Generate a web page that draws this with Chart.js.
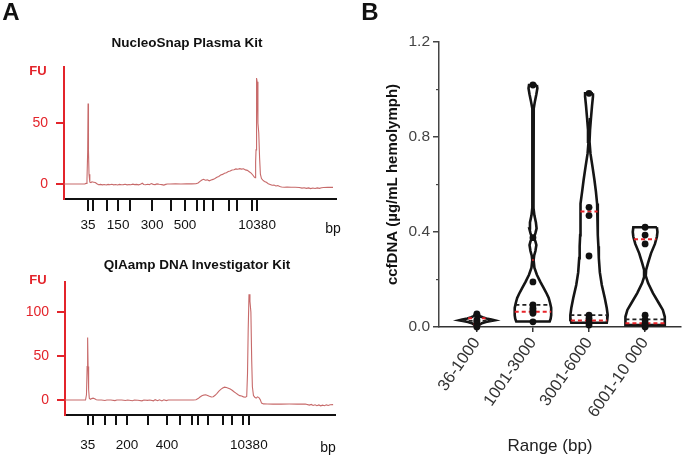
<!DOCTYPE html>
<html>
<head>
<meta charset="utf-8">
<script src="https://cdn.jsdelivr.net/npm/chart.js@4.4.1/dist/chart.umd.min.js"></script>
<style>
  html, body { margin: 0; padding: 0; background: #fff; }
  #fig { position: relative; width: 685px; height: 455px; overflow: hidden; font-family: "Liberation Sans", Arial, sans-serif; }
  #fig canvas { position: absolute; }
  .lbl { position: absolute; transform: translate(-50%, -50%); line-height: 1; white-space: nowrap; color: #111; }
  .b { font-weight: bold; }
  .red { color: #e3242b; }
</style>
</head>
<body>
<div id="fig">
  <canvas id="top" width="345" height="235" style="left:0;top:0"></canvas>
  <canvas id="bottom" width="345" height="235" style="left:0;top:220px"></canvas>
  <canvas id="violin" width="340" height="455" style="left:345px;top:0"></canvas>

  <div class="lbl b" style="left:11px;top:12px;font-size:24px">A</div>
  <div class="lbl b" style="left:370px;top:12px;font-size:24px">B</div>
  <div class="lbl b" style="left:187px;top:43px;font-size:13.5px">NucleoSnap Plasma Kit</div>
  <div class="lbl b" style="left:197px;top:265px;font-size:13.5px">QIAamp DNA Investigator Kit</div>
  <div class="lbl b red" style="left:38px;top:70px;font-size:13px">FU</div>
  <div class="lbl b red" style="left:38px;top:279px;font-size:13px">FU</div>
  <div class="lbl" style="left:333px;top:228px;font-size:14px">bp</div>
  <div class="lbl" style="left:328px;top:447px;font-size:14px">bp</div>
  <div class="lbl" style="left:550px;top:445px;font-size:17px;color:#222">Range (bp)</div>
</div>
<script>
const RED = '#e3242b';
const TRACE = '#c76a6a';

// --- Panel A: electropherograms (x = migration position, 0-100) ---
const topLadder = [8.8, 10.6, 15.8, 19.9, 24.3, 32.4, 39.3, 44.5, 48.9, 51.5, 54.8, 60.7, 63.6, 69.1, 71.0];
const topLadderLabels = ['35', '', '', '150', '', '300', '', '500', '', '', '', '', '', '', '10380'];
const bottomLadder = [8.4, 10.3, 14.9, 19.0, 23.0, 30.9, 37.8, 42.7, 47.1, 49.3, 52.9, 58.4, 61.7, 66.0, 68.1];
const bottomLadderLabels = ['35', '', '', '', '200', '', '400', '', '', '', '', '', '', '', '10380'];

// [position, FU]
const topTrace = [
  [0,0],[3,0],[6,0],[7.6,0],[8.1,0.5],[8.45,4],[8.7,26],[8.85,66],[9.0,27],[9.2,8],[9.5,1.5],[9.9,1.2],
  [10.3,1.8],[10.9,1.5],[11.5,1.2],[12.1,0.2],[12.7,-0.6],[13.4,-0.3],[14.1,-0.7],[14.8,-0.4],[15.5,-0.8],
  [16.2,-0.3],[16.9,-0.6],[17.6,-0.2],[18.3,-0.7],[19,-0.4],[19.7,-0.8],[20.4,-0.3],[21.1,-0.6],[21.8,-0.5],
  [22.5,-0.2],[23.2,-0.7],[23.9,-0.4],[24.6,-0.6],[25.3,-0.1],[26,-0.5],[26.7,-0.3],[27.4,-0.7],[28.1,-0.2],
  [28.8,0.6],[29.3,-0.4],[30,-0.6],[30.7,-0.2],[31.4,-0.5],[32.1,0.4],[32.8,-0.3],[33.5,-0.5],[34.2,0.1],
  [35,-0.2],[36,-0.5],[36.7,-0.9],[37.4,-0.3],[38,0],[39,0],[41,0.1],[43,0],[45,0.1],[47,0.1],[48.5,0.2],
  [49.3,0.8],[50,2.2],[50.7,3.3],[51.3,3.9],[52,3.1],[52.7,3.4],[53.4,2.6],[54.1,3.2],[54.8,3.8],[55.5,4.6],
  [56.2,5.6],[56.9,6.2],[57.6,7.3],[58.3,7.9],[59,8.8],[59.7,9.3],[60.4,10.2],[61.1,10.6],[61.8,11.5],
  [62.5,11.7],[63.2,12.4],[63.9,12.1],[64.6,12.6],[65.3,12.2],[66,12.5],[66.7,11.6],[67.4,11.2],[68.1,10.1],
  [68.8,8.9],[69.4,7.4],[69.9,5.8],[70.25,5.2],[70.45,18],[70.6,28],[70.8,87],[71.0,84],[71.3,50],[71.6,42],
  [71.9,22],[72.2,8],[72.6,4.5],[73.1,3.2],[73.7,2.1],[74.4,1.4],[75.1,0.2],[75.8,-0.4],[76.5,-1],[77.2,-0.8],
  [77.9,-1.6],[78.6,-1.3],[79.3,-2.1],[80,-2.4],[81,-2.6],[82,-2.5],[83.5,-2.7],[85,-2.6],[86.5,-2.8],
  [87.5,-3.4],[88.3,-3.1],[89.1,-3.6],[89.9,-3.2],[90.7,-3.8],[91.5,-3.3],[92.3,-3.7],[93.1,-3.2],[93.9,-3.6],
  [94.7,-3.1],[95.5,-2.9],[97,-2.8],[98.9,-2.8]
];

const bottomTrace = [
  [0,0],[3,0],[6,0],[7.6,0],[7.95,6],[8.2,38],[8.38,71],[8.55,38],[8.75,12],[9.0,2],[9.4,0.8],[9.9,1.6],
  [10.4,2.1],[11,1.4],[11.6,0.3],[12.3,0],[13.5,0.1],[14.8,-0.6],[15.5,0],[17,0],[18.5,-0.7],[19.2,0],
  [21,0.1],[22.4,-0.5],[23.2,0],[25,-0.8],[25.7,0],[27,-0.2],[28.5,-0.9],[29.2,0],[30.6,-0.4],[31.4,0],
  [32.8,-0.9],[33.4,0.4],[34.3,-0.8],[35,0.3],[35.9,-1],[36.6,0.2],[37.5,-0.7],[38.3,0],[40,0],[42,0.1],
  [44,0],[46,0],[47.5,0.1],[48.5,0.4],[49.3,1.6],[50,3.4],[50.7,4.8],[51.4,5.6],[52.1,5.9],[52.8,5.1],
  [53.5,4.2],[54.2,3.4],[54.9,3.8],[55.6,5.4],[56.3,7.6],[57,10],[57.7,12.1],[58.4,13.6],[59.1,14.6],
  [59.8,14.3],[60.5,13.5],[61.2,12.4],[61.9,11.1],[62.6,9.4],[63.3,7.8],[64,6.2],[64.7,5],[65.4,4.6],
  [66.1,3.6],[66.8,3.2],[67.3,4],[67.6,30],[67.85,80],[68.15,120],[68.5,112],[68.85,100],[69.15,45],
  [69.4,15],[69.8,5],[70.3,3.2],[70.8,2.2],[71.3,3.6],[71.8,2.8],[72.3,0.5],[72.8,-3.5],[73.5,-4.4],
  [75,-4.5],[77,-4.6],[80,-4.6],[83,-4.5],[86,-4.6],[89,-4.6],[90.5,-5.8],[91.2,-5.0],[91.9,-6.2],
  [92.6,-5.4],[93.3,-6.4],[94,-5.6],[94.7,-6.6],[95.4,-5.8],[96.1,-6.5],[96.8,-5.5],[97.5,-6.2],[98.2,-5.4],
  [99.3,-5.2]
];

// --- Panel B: violins ---
const ranges = ['36-1000', '1001-3000', '3001-6000', '6001-10 000'];
// violin outlines, top to bottom: [ccfDNA, half width in category units]
const violin1 = [[0.058,0.026],[0.052,0.035],[0.046,0.055],[0.041,0.1],[0.036,0.17],[0.031,0.26],[0.028,0.315],
  [0.025,0.25],[0.021,0.16],[0.016,0.09],[0.01,0.05],[0.005,0.025],[0,0.008]];
const violin2 = [[1.019,0.07],[1.005,0.079],[0.98,0.061],[0.95,0.035],[0.92,0.014],[0.89,0.009],[0.7,0.009],
  [0.5,0.012],[0.47,0.026],[0.44,0.053],[0.415,0.065],[0.395,0.044],[0.376,0.018],[0.36,0.044],[0.345,0.061],
  [0.32,0.044],[0.3,0.021],[0.282,0.012],[0.25,0.026],[0.22,0.07],[0.19,0.132],[0.164,0.193],[0.14,0.246],
  [0.122,0.281],[0.1,0.307],[0.08,0.325],[0.05,0.325],[0.035,0.316],[0.023,0.298]];
const violin3 = [[0.984,0.07],[0.97,0.07],[0.93,0.053],[0.88,0.035],[0.83,0.018],[0.78,0.009],[0.73,0.026],
  [0.67,0.065],[0.62,0.096],[0.57,0.123],[0.52,0.144],[0.486,0.153],[0.44,0.158],[0.387,0.158],[0.34,0.167],
  [0.29,0.175],[0.23,0.193],[0.177,0.228],[0.122,0.281],[0.08,0.316],[0.05,0.333],[0.03,0.325],[0.018,0.316]];
const violin4 = [[0.42,0.21],[0.4,0.22],[0.38,0.21],[0.35,0.175],[0.31,0.105],[0.27,0.053],[0.24,0.018],
  [0.215,0.012],[0.185,0.053],[0.143,0.14],[0.1,0.246],[0.072,0.316],[0.043,0.351],[0.008,0.351]];

const dots1 = [0.055, 0.03, 0.022, 0.012, 0.0];
const dots2 = [1.019, 0.376, 0.19, 0.093, 0.079, 0.07, 0.058, 0.022];
const dots3 = [0.984, 0.504, 0.469, 0.299, 0.05, 0.037, 0.02, 0.008];
const dots4 = [0.42, 0.387, 0.35, 0.05, 0.03, 0.016, 0.0];

const quart1 = [0.012, 0.064, 0.027, 0.016];
const medians = [0.026, 0.093, 0.05, 0.032];
const quart3 = [0.037, 0.282, 0.486, 0.37];

const yMajor = [0, 0.4, 0.8, 1.2];
const yMinor = [0.2, 0.6, 1.0];

Chart.defaults.font.family = '"Liberation Sans", Arial, sans-serif';

// Draw an electropherogram.
function electro(id, trace, ladder, ladderLabels, o) {
  new Chart(document.getElementById(id), {
    type: 'line',
    data: {
      datasets: [{
        data: trace.map(([x, y]) => ({x, y})),
        borderColor: TRACE, borderWidth: 1.1, pointRadius: 0, tension: 0,
      }],
    },
    options: {
      responsive: false,
      animation: false,
      layout: { padding: o.padding },
      plugins: { legend: { display: false }, tooltip: { enabled: false } },
      scales: {
        x: {
          type: 'linear', min: 0, max: 100,
          afterBuildTicks: s => { s.ticks = ladder.map(v => ({value: v})); },
          afterFit: s => { s.height = o.xHeight; s.paddingLeft = 0; s.paddingRight = 0; },
          ticks: { autoSkip: false, maxRotation: 0, padding: o.labelPad, color: '#111', font: {size: 13.5},
                   callback: (v, i) => ladderLabels[i] },
          grid: { drawOnChartArea: false, tickLength: o.tickLen, color: '#111', lineWidth: 2 },
          border: { color: '#111', width: 2 },
        },
        y: {
          min: o.yMin, max: o.yMax,
          afterBuildTicks: s => { s.ticks = o.yTicks.map(v => ({value: v})); },
          afterFit: s => { s.width = o.yWidth; s.paddingTop = 0; s.paddingBottom = 0; },
          ticks: { padding: 8, color: RED, font: {size: 14} },
          grid: { drawOnChartArea: false, tickLength: 8, color: RED, lineWidth: 2 },
          border: { color: RED, width: 2 },
        },
      },
    },
  });
}

electro('top', topTrace, topLadder, topLadderLabels, {
  padding: {top: 67, right: 9, bottom: 0, left: 0},
  xHeight: 36, yWidth: 64, yMin: -12.3, yMax: 96, yTicks: [0, 50], tickLen: 12, labelPad: 6,
});
electro('bottom', bottomTrace, bottomLadder, bottomLadderLabels, {
  padding: {top: 62, right: 10, bottom: 0, left: 0},
  xHeight: 40, yWidth: 65, yMin: -17, yMax: 134, yTicks: [0, 50, 100], tickLen: 10, labelPad: 12,
});

// Build violin datasets.
const violins = [violin1, violin2, violin3, violin4];
const dots = [dots1, dots2, dots3, dots4];

function halfWidthAt(profile, y) {
  for (let i = 0; i < profile.length - 1; i++) {
    const [y0, w0] = profile[i], [y1, w1] = profile[i + 1];
    if (y <= y0 && y >= y1) return w0 + (w1 - w0) * (y - y0) / (y1 - y0);
  }
  return profile[profile.length - 1][1];
}

const datasets = [];
datasets.push({
  data: dots.flatMap((list, i) => list.map(y => ({x: i + 1, y}))),
  showLine: false, pointRadius: 3.4, pointBackgroundColor: '#111', pointBorderWidth: 0, clip: false,
});
const levelLine = (i, y, color, width) => {
  const w = halfWidthAt(violins[i], y);
  return {
    data: [{x: i + 1 - w, y}, {x: i + 1 + w, y}],
    borderColor: color, borderWidth: width, borderDash: [4, 3], pointRadius: 0, clip: false,
  };
};
ranges.forEach((_, i) => {
  datasets.push(levelLine(i, quart1[i], '#e8242a', 2));
  datasets.push(levelLine(i, quart3[i], '#e8242a', 2));
  datasets.push(levelLine(i, medians[i], '#222', 1.6));
});
violins.forEach((profile, i) => {
  const c = i + 1;
  const right = profile.map(([y, w]) => ({x: c + w, y}));
  const left = profile.slice().reverse().map(([y, w]) => ({x: c - w, y}));
  datasets.push({
    data: [...right, ...left, right[0]],
    borderColor: '#151515', borderWidth: 2.6, pointRadius: 0, tension: 0, fill: false, clip: false,
  });
});

new Chart(document.getElementById('violin'), {
  type: 'line',
  data: { datasets },
  options: {
    responsive: false,
    animation: false,
    layout: { padding: {top: 42, right: 0, bottom: 0, left: 0} },
    plugins: { legend: { display: false }, tooltip: { enabled: false } },
    scales: {
      x: {
        type: 'linear', min: 0.325, max: 4.64,
        afterBuildTicks: s => { s.ticks = ranges.map((_, i) => ({value: i + 1})); },
        afterFit: s => { s.height = 128; s.paddingLeft = 0; s.paddingRight = 0; },
        ticks: { autoSkip: false, minRotation: 55, maxRotation: 55, padding: 2, color: '#333', font: {size: 16.5},
                 callback: (v, i) => ranges[i] },
        grid: { drawOnChartArea: false, tickLength: 5, color: '#333', lineWidth: 1.5 },
        border: { color: '#333', width: 1.5 },
      },
      y: {
        min: 0, max: 1.2, weight: 1,
        afterBuildTicks: s => { s.ticks = yMajor.map(v => ({value: v})); },
        afterFit: s => { s.width = 94; s.paddingTop = 0; s.paddingBottom = 0; },
        ticks: { padding: 3, color: '#444', font: {size: 15.5}, callback: v => v.toFixed(1) },
        grid: { drawOnChartArea: false, tickLength: 6, color: '#444', lineWidth: 1.5 },
        border: { color: '#444', width: 1.5 },
        title: { display: true, text: 'ccfDNA (µg/mL hemolymph)', color: '#111',
                 font: {size: 15, weight: 'bold'}, padding: {top: 38.5, bottom: 0} },
      },
      y2: {
        position: 'left', min: 0, max: 1.2, weight: 0,
        afterBuildTicks: s => { s.ticks = yMinor.map(v => ({value: v})); },
        afterFit: s => { s.width = 0; s.paddingTop = 0; s.paddingBottom = 0; },
        ticks: { display: false },
        grid: { drawOnChartArea: false, tickLength: 3, color: '#444', lineWidth: 1.2 },
        border: { display: false },
      },
    },
  },
});
</script>
</body>
</html>
